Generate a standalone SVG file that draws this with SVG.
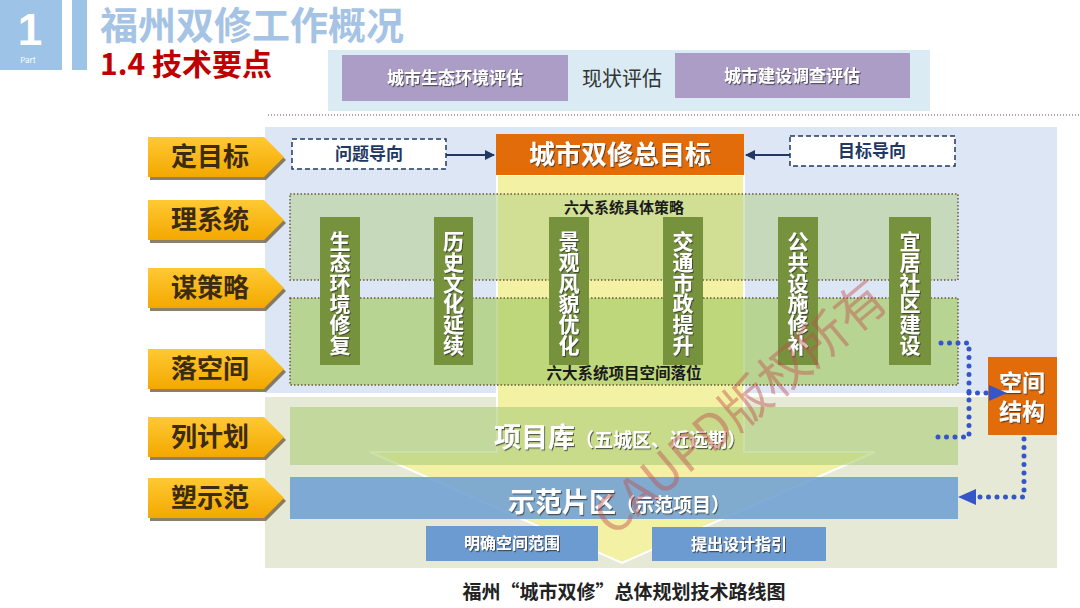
<svg xmlns="http://www.w3.org/2000/svg" width="1080" height="608" viewBox="0 0 1080 608">
<defs>
<style>
text{font-family:'Noto Sans CJK SC','Noto Sans',sans-serif;}
.lbl{font-size:26px;font-weight:bold;fill:#3d2b0f;text-anchor:middle;}
.wt{fill:#fff;font-weight:bold;text-anchor:middle;filter:url(#ts);}
.pil{fill:#76923c;}
.pt{fill:#fff;font-weight:bold;font-size:21px;text-anchor:middle;filter:url(#ts);}
.band{stroke:#6b5a3a;stroke-width:1.5;stroke-dasharray:1.5 2;}
.dash{fill:#fff;stroke:#1f3864;stroke-width:1.5;stroke-dasharray:5 3;}
.nv{fill:#1f3864;font-size:17px;font-weight:bold;text-anchor:middle;}
.dot{fill:none;stroke:#3456c8;stroke-width:5;stroke-linecap:round;stroke-dasharray:0 8.5;}
.pur{fill:#ac9dc7;}
.blu{fill:#6c9bd2;}
</style>
<linearGradient id="yg" x1="0" y1="0" x2="0" y2="1">
<stop offset="0" stop-color="#ffc933"/>
<stop offset="1" stop-color="#f3a800"/>
</linearGradient>
<filter id="ts" x="-20%" y="-20%" width="140%" height="140%">
<feDropShadow dx="1" dy="1.2" stdDeviation="0.7" flood-color="#333" flood-opacity="0.75"/>
</filter>
<marker id="ah" viewBox="0 0 10 10" refX="9" refY="5" markerWidth="5" markerHeight="5" orient="auto">
<path d="M0,0 L10,5 L0,10 Z" fill="#1f3864"/>
</marker>
<g id="ylab">
<polygon points="2,3 118,3 138,23 118,43 2,43" fill="#6f6040" opacity="0.8"/>
<polygon points="0,0 116,0 136,20 116,40 0,40" fill="url(#yg)"/>
</g>
</defs>

<rect width="1080" height="608" fill="#fff"/>

<!-- header -->
<g id="header">
<rect x="0" y="0" width="62" height="70" fill="#9dc3e6"/>
<text x="30" y="45" font-size="44" font-weight="bold" fill="#fff" text-anchor="middle" style="font-family:'Liberation Sans',sans-serif">1</text>
<text x="28" y="63" font-size="8" fill="#fff" text-anchor="middle">Part</text>
<rect x="72" y="0" width="15" height="70" fill="#9dc3e6"/>
<text x="100" y="39" font-size="38" font-weight="bold" fill="#a5c3e4">福州双修工作概况</text>
<text x="100" y="75" font-size="30" font-weight="bold" fill="#c00000">1.4 技术要点</text>
</g>

<!-- status assessment -->
<g id="status">
<rect x="328" y="50" width="602" height="61" fill="#daebf3"/>
<rect class="pur" x="342" y="55" width="226" height="46"/>
<text x="455" y="84" font-size="17" class="wt">城市生态环境评估</text>
<text x="622" y="86" font-size="20" fill="#333" text-anchor="middle">现状评估</text>
<rect class="pur" x="675" y="53" width="235" height="45"/>
<text x="792" y="82" font-size="17" class="wt">城市建设调查评估</text>
</g>
<line x1="268" y1="115" x2="1080" y2="115" stroke="#555" stroke-width="1" stroke-dasharray="1 2"/>

<!-- backgrounds -->
<rect x="265" y="127" width="792" height="266" fill="#dce6f5"/>
<rect x="265" y="397" width="792" height="171" fill="#e5e9d6"/>

<!-- big yellow arrow -->
<path id="funnel" d="M497,175 L744,175 L744,452 L875,452 L622,563 L370,452 L497,452 Z" fill="#f3f1a3" stroke="#fff" stroke-width="2"/>

<!-- left labels -->
<g id="l1"><use href="#ylab" x="148" y="137"/><text class="lbl" x="210" y="166">定目标</text></g>
<g id="l2"><use href="#ylab" x="148" y="200"/><text class="lbl" x="210" y="229">理系统</text></g>
<g id="l3"><use href="#ylab" x="148" y="268"/><text class="lbl" x="210" y="297">谋策略</text></g>
<g id="l4"><use href="#ylab" x="148" y="349"/><text class="lbl" x="210" y="378">落空间</text></g>
<g id="l5"><use href="#ylab" x="148" y="417"/><text class="lbl" x="210" y="446">列计划</text></g>
<g id="l6"><use href="#ylab" x="148" y="478"/><text class="lbl" x="210" y="507">塑示范</text></g>

<!-- top row -->
<g id="problem"><rect class="dash" x="292" y="139" width="154" height="30"/><text class="nv" x="369" y="160">问题导向</text></g>
<g id="goal"><rect x="496" y="134" width="248" height="41" fill="#e36c0a"/><text class="wt" x="620" y="164" font-size="26">城市双修总目标</text></g>
<g id="target"><rect class="dash" x="790" y="136" width="165" height="30"/><text class="nv" x="872" y="157">目标导向</text></g>

<!-- bands -->
<g id="strategy">
<rect class="band" x="290" y="194" width="668" height="86" fill="#b5d08a" fill-opacity="0.55"/>
<text x="624" y="213" font-size="15" font-weight="bold" fill="#1a1a1a" text-anchor="middle">六大系统具体策略</text>
</g>
<g id="space">
<rect class="band" x="290" y="298" width="668" height="87" fill="#a8cc6a" fill-opacity="0.7"/>
<text x="624" y="379" font-size="15.5" font-weight="bold" fill="#1a1a1a" text-anchor="middle">六大系统项目空间落位</text>
</g>

<!-- pillars -->
<g id="p1"><rect class="pil" x="320" y="217" width="40" height="148"/>
<text class="pt" x="340" y="249"><tspan x="340">生</tspan><tspan x="340" dy="20.8">态</tspan><tspan x="340" dy="20.8">环</tspan><tspan x="340" dy="20.8">境</tspan><tspan x="340" dy="20.8">修</tspan><tspan x="340" dy="20.8">复</tspan></text></g>
<g id="p2"><rect class="pil" x="434" y="217" width="39" height="148"/>
<text class="pt" x="453.5" y="249"><tspan x="453.5">历</tspan><tspan x="453.5" dy="20.8">史</tspan><tspan x="453.5" dy="20.8">文</tspan><tspan x="453.5" dy="20.8">化</tspan><tspan x="453.5" dy="20.8">延</tspan><tspan x="453.5" dy="20.8">续</tspan></text></g>
<g id="p3"><rect class="pil" x="549" y="217" width="40" height="148"/>
<text class="pt" x="569" y="249"><tspan x="569">景</tspan><tspan x="569" dy="20.8">观</tspan><tspan x="569" dy="20.8">风</tspan><tspan x="569" dy="20.8">貌</tspan><tspan x="569" dy="20.8">优</tspan><tspan x="569" dy="20.8">化</tspan></text></g>
<g id="p4"><rect class="pil" x="663" y="217" width="40" height="148"/>
<text class="pt" x="683" y="249"><tspan x="683">交</tspan><tspan x="683" dy="20.8">通</tspan><tspan x="683" dy="20.8">市</tspan><tspan x="683" dy="20.8">政</tspan><tspan x="683" dy="20.8">提</tspan><tspan x="683" dy="20.8">升</tspan></text></g>
<g id="p5"><rect class="pil" x="778" y="217" width="40" height="148"/>
<text class="pt" x="798" y="249"><tspan x="798">公</tspan><tspan x="798" dy="20.8">共</tspan><tspan x="798" dy="20.8">设</tspan><tspan x="798" dy="20.8">施</tspan><tspan x="798" dy="20.8">修</tspan><tspan x="798" dy="20.8">补</tspan></text></g>
<g id="p6"><rect class="pil" x="889" y="217" width="42" height="148"/>
<text class="pt" x="910" y="249"><tspan x="910">宜</tspan><tspan x="910" dy="20.8">居</tspan><tspan x="910" dy="20.8">社</tspan><tspan x="910" dy="20.8">区</tspan><tspan x="910" dy="20.8">建</tspan><tspan x="910" dy="20.8">设</tspan></text></g>

<!-- project library -->
<g id="library">
<rect x="290" y="407" width="668" height="58" fill="#b0d07e" fill-opacity="0.65"/>
<text class="wt" x="620" y="447"><tspan font-size="27">项目库</tspan><tspan font-size="19">（五城区、近远期）</tspan></text>
</g>
<g id="demo">
<rect x="290" y="477" width="668" height="42" fill="#6f9fd4" fill-opacity="0.88"/>
<text class="wt" x="619" y="512"><tspan font-size="27">示范片区</tspan><tspan font-size="19">（示范项目）</tspan></text>
</g>
<g id="scope"><rect class="blu" x="426" y="526" width="172" height="35"/><text class="wt" x="512" y="549" font-size="16">明确空间范围</text></g>
<g id="guide"><rect class="blu" x="652" y="527" width="174" height="34"/><text class="wt" x="739" y="550" font-size="16">提出设计指引</text></g>

<!-- spatial structure -->
<g id="structure">
<rect x="988" y="357" width="69" height="78" fill="#e36c0a"/>
<text class="wt" x="1022" y="391" font-size="23">空间</text>
<text class="wt" x="1022" y="420" font-size="23">结构</text>
</g>

<!-- connectors -->
<g id="connectors">
<line x1="446" y1="155" x2="494" y2="155" stroke="#1f3864" stroke-width="2" marker-end="url(#ah)"/>
<line x1="790" y1="155" x2="746" y2="155" stroke="#1f3864" stroke-width="2" marker-end="url(#ah)"/>
<path class="dot" d="M941,343 H969 V437 H937"/>
<path class="dot" d="M969,393 H988"/>
<polygon points="989,385 1007,393 989,401" fill="#3456c8"/>
<path class="dot" d="M1024,439 V497 H976"/>
<polygon points="976,489 958,497 976,505" fill="#3456c8"/>
</g>

<!-- caption -->
<text x="624" y="599" font-size="19" font-weight="bold" fill="#222" text-anchor="middle">福州“城市双修”总体规划技术路线图</text>

<!-- watermark -->
<text x="741" y="425" font-size="50" fill="#c0504d" fill-opacity="0.45" text-anchor="middle" transform="rotate(-40 741 408)">CAUPD版权所有</text>
</svg>
